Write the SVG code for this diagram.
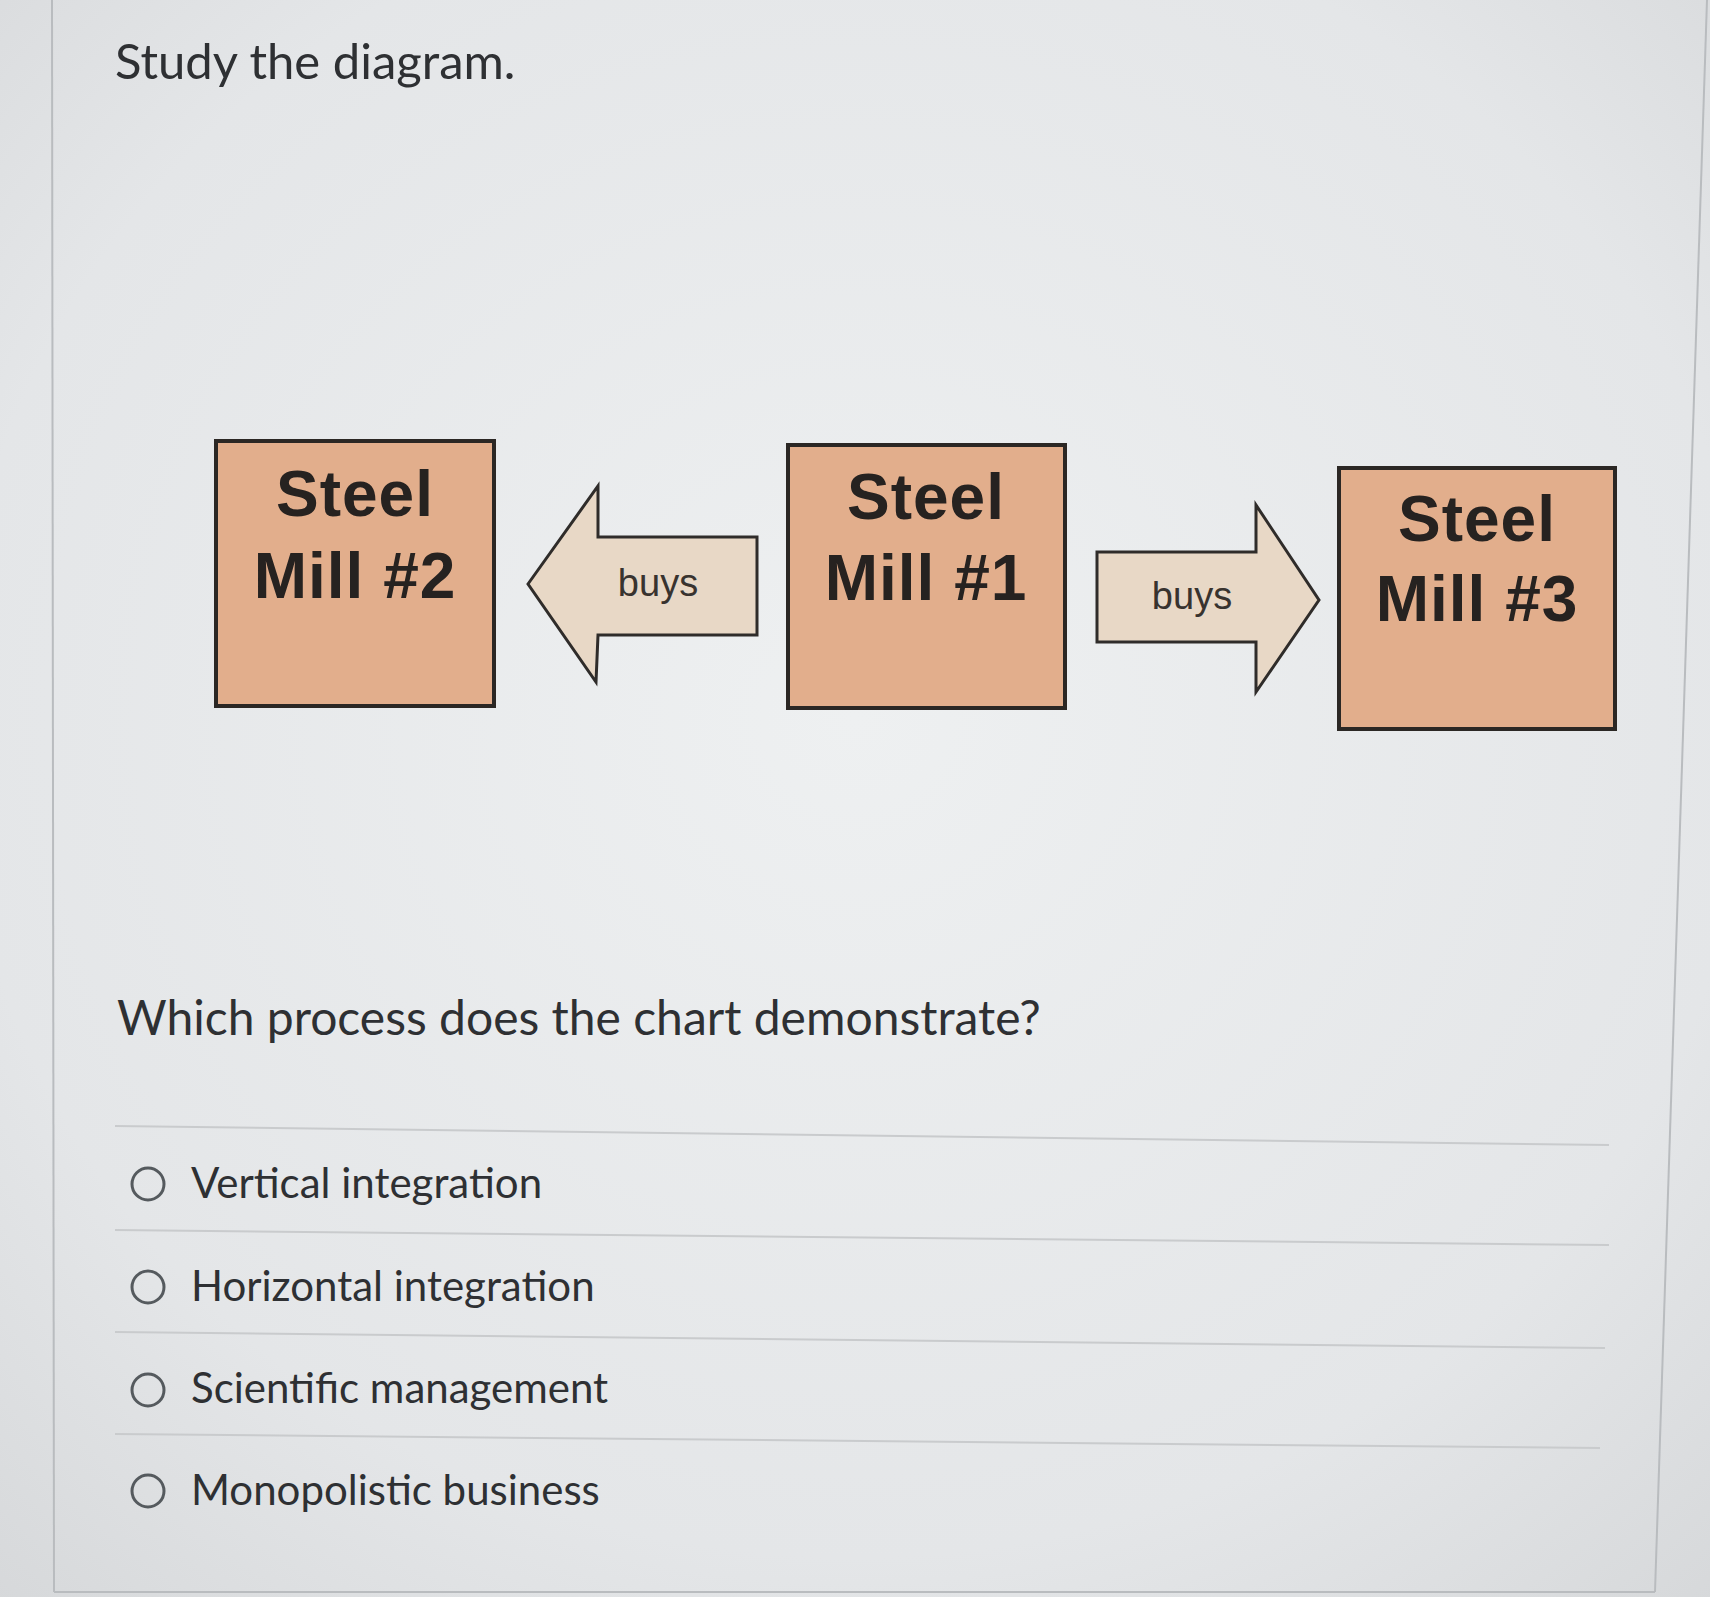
<svg xmlns="http://www.w3.org/2000/svg" width="1710" height="1597" viewBox="0 0 1710 1597">
<defs>
<radialGradient id="bg" cx="50%" cy="45%" r="75%">
<stop offset="0" stop-color="#eef0f1"/>
<stop offset="0.7" stop-color="#e4e6e8"/>
<stop offset="1" stop-color="#d6d8da"/>
</radialGradient>
<style>
.frame{fill:none;stroke:#b9bcbf;stroke-width:2}
.box{fill:#e2ae8c;stroke:#2b2724;stroke-width:4}
.arrow{fill:#e8d8c6;stroke:#2f2c2a;stroke-width:3}
.big{font-family:"Liberation Sans",Arial,sans-serif;font-weight:bold;font-size:64px;fill:#262220;text-anchor:middle;letter-spacing:1px}
.lbl{font-family:"Liberation Sans",Arial,sans-serif;font-size:38px;fill:#38332f;text-anchor:middle}
.t{font-family:Lato,"Liberation Sans",sans-serif;font-size:49px;fill:#2e3033}
.q{font-family:Lato,"Liberation Sans",sans-serif;font-size:48px;fill:#2e3033}
.opt{font-family:Lato,"Liberation Sans",sans-serif;font-size:42px;fill:#2e3033}
.radio{fill:none;stroke:#555a5e;stroke-width:3}
.sep{stroke:#c9cbcd;stroke-width:2}
</style>
</defs>
<rect x="0" y="0" width="1710" height="1597" fill="url(#bg)"/>
<g id="frame">
<line class="frame" x1="52" y1="0" x2="54" y2="1592"/>
<line class="frame" x1="54" y1="1592" x2="1655" y2="1592"/>
<line class="frame" x1="1707" y1="0" x2="1655" y2="1592"/>
</g>
<g id="title"><text class="t" x="115" y="79">Study the diagram.</text></g>
<g id="connectors">
<g id="arrow-left">
<polygon class="arrow" points="528,584 598,486 598,537 757,537 757,635 598,635 596,682"/>
<text class="lbl" x="658" y="596">buys</text>
</g>
<g id="arrow-right">
<polygon class="arrow" points="1097,552 1256,552 1256,505 1319,600 1256,692 1256,642 1097,642"/>
<text class="lbl" x="1192" y="609">buys</text>
</g>
</g>
<g id="mill2">
<rect class="box" x="216" y="441" width="278" height="265"/>
<text class="big" x="355" y="516">Steel</text>
<text class="big" x="355" y="598">Mill #2</text>
</g>
<g id="mill1">
<rect class="box" x="788" y="445" width="277" height="263"/>
<text class="big" x="926" y="519">Steel</text>
<text class="big" x="926" y="600">Mill #1</text>
</g>
<g id="mill3">
<rect class="box" x="1339" y="468" width="276" height="261"/>
<text class="big" x="1477" y="541">Steel</text>
<text class="big" x="1477" y="621">Mill #3</text>
</g>
<g id="question"><text class="q" x="117" y="1035">Which process does the chart demonstrate?</text></g>
<g id="separators">
<line class="sep" x1="115" y1="1126" x2="1609" y2="1145"/>
<line class="sep" x1="115" y1="1230" x2="1609" y2="1245"/>
<line class="sep" x1="115" y1="1332" x2="1605" y2="1348"/>
<line class="sep" x1="115" y1="1434" x2="1600" y2="1448"/>
</g>
<g id="opt1"><circle class="radio" cx="148" cy="1184" r="16"/><text class="opt" x="191" y="1198">Vertical integration</text></g>
<g id="opt2"><circle class="radio" cx="148" cy="1287" r="16"/><text class="opt" x="191" y="1301">Horizontal integration</text></g>
<g id="opt3"><circle class="radio" cx="148" cy="1390" r="16"/><text class="opt" x="191" y="1403">Scientific management</text></g>
<g id="opt4"><circle class="radio" cx="148" cy="1491" r="16"/><text class="opt" x="191" y="1505">Monopolistic business</text></g>
</svg>
